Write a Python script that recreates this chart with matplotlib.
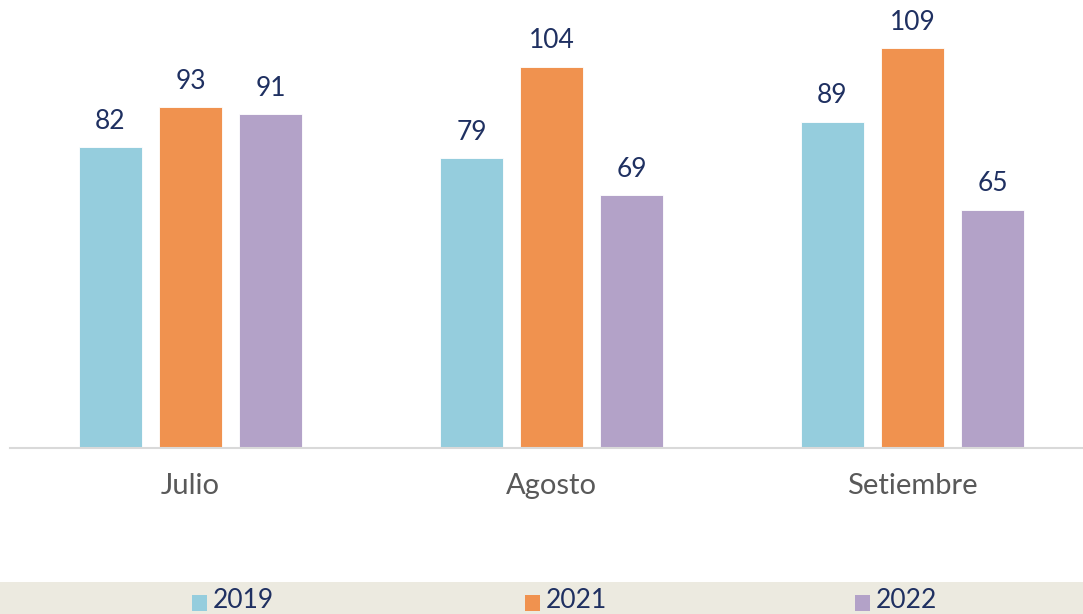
import matplotlib
matplotlib.use("Agg")
import matplotlib.pyplot as plt
import matplotlib.patches as mpatches
import numpy as np

months = ["Julio", "Agosto", "Setiembre"]
years = ["2019", "2021", "2022"]
values_2019 = [82, 79, 89]
values_2021 = [93, 104, 109]
values_2022 = [91, 69, 65]
colours = ["#95CDDD", "#F0924F", "#B3A2C8"]

LABEL_C = "#1F3061"
TICK_C = "#595959"
FONT = "Lato"

W, H = 1083, 614
fig = plt.figure(figsize=(W / 100, H / 100), dpi=100)
fig.patch.set_facecolor("white")

# axes: baseline at y=448px, 3.67 px/unit
ax = fig.add_axes([10 / W, (H - 448) / H, 1083 / W, 440 / H])
ax.set_xlim(-0.5, 2.5)
ax.set_ylim(0, 120)

x = np.arange(len(months))
step = 80 / 361
width = 63 / 361
series = [values_2019, values_2021, values_2022]
for i, (vals, col) in enumerate(zip(series, colours)):
    pos = x + (i - 1) * step
    bars = ax.bar(pos, vals, width=width, color=col, edgecolor="white", linewidth=0.6)
    for b, v in zip(bars, vals):
        ax.text(b.get_x() + b.get_width() / 2, v + 3.6, str(v), ha="center", va="bottom",
                fontsize=19, color=LABEL_C, family=FONT)

for s in ["top", "right", "left"]:
    ax.spines[s].set_visible(False)
ax.spines["bottom"].set_color("#D9D9D9")
ax.spines["bottom"].set_linewidth(1.5)
ax.set_yticks([])
ax.set_xticks(x)
ax.set_xticklabels(months, fontsize=21, color=TICK_C, family=FONT)
ax.tick_params(axis="x", length=0, pad=18)

# legend band at the bottom
fig.patches.append(mpatches.Rectangle((0, 0), 1, (H - 582) / H, transform=fig.transFigure,
                                      facecolor="#ECEAE0", edgecolor="none", zorder=0))
box_x = [192, 525, 855]
for bx, yr, col in zip(box_x, years, colours):
    fig.patches.append(mpatches.Rectangle((bx / W, (H - 611) / H), 15 / W, 16 / H,
                                          transform=fig.transFigure, facecolor=col,
                                          edgecolor="none", zorder=1))
    fig.text((bx + 21) / W, (H - 601) / H, yr, ha="left", va="center", fontsize=19,
             color=LABEL_C, family=FONT)

fig.savefig("out.png", dpi=100)
